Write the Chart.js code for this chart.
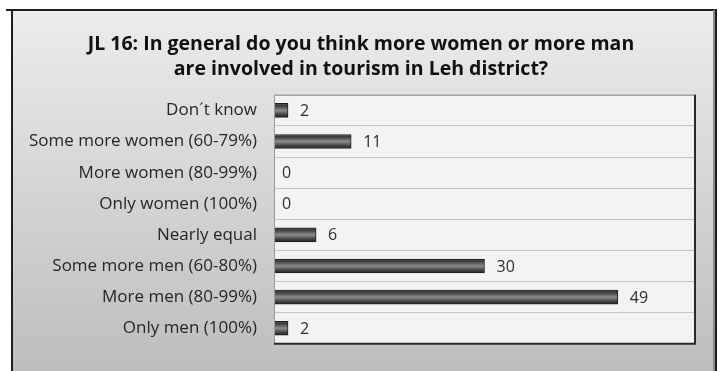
<!DOCTYPE html>
<html>
<head>
<meta charset="utf-8">
<script src="https://cdn.jsdelivr.net/npm/chart.js@4.4.1/dist/chart.umd.min.js"></script>
<style>
  html, body { margin: 0; padding: 0; background: #ffffff; }
  #wrap { width: 719px; height: 371px; position: relative; }
</style>
</head>
<body>
<div id="wrap"><canvas id="tourismChart"></canvas></div>
<script>
// survey answers, top to bottom
const categories = [
    'Don\u00b4t know',
    'Some more women (60-79%)',
    'More women (80-99%)',
    'Only women (100%)',
    'Nearly equal',
    'Some more men (60-80%)',
    'More men (80-99%)',
    'Only men (100%)'
];
const counts = [2, 11, 0, 0, 6, 30, 49, 2];
const titleLines = [
    'JL 16: In general do you think more women or more man',
    'are involved in tourism in Leh district?'
];
const axisMax = 60;

const FONT = '"Open Sans", "DejaVu Sans", sans-serif';

// grey panel behind everything + the black frame
const panelBg = {
    id: 'panelBg',
    beforeDraw(chart) {
        const { ctx, width, height } = chart;
        ctx.save();
        ctx.fillStyle = '#ffffff';
        ctx.fillRect(0, 0, width, height);
        const g = ctx.createLinearGradient(0, 10, 0, height);
        g.addColorStop(0, '#ececec');
        g.addColorStop(1, '#bdbdbd');
        ctx.fillStyle = g;
        ctx.fillRect(12, 10, 704, height - 10);
        ctx.fillStyle = '#1e1e1e';
        ctx.fillRect(6, 9, 711, 2);
        ctx.fillRect(11, 10, 2, height - 10);
        ctx.fillRect(715, 10, 2, height - 10);
        ctx.fillStyle = '#8c8c8c';
        ctx.fillRect(713, 10, 2, height - 10);

        // plot area fill
        const a = chart.chartArea;
        ctx.fillStyle = '#f3f3f3';
        ctx.fillRect(a.left, a.top, a.right - a.left, a.bottom - a.top);
        ctx.restore();
    },
    afterDraw(chart) {
        const { ctx } = chart;
        const a = chart.chartArea;
        ctx.save();
        ctx.lineWidth = 1;
        ctx.strokeStyle = '#9a9a9a';
        ctx.beginPath();
        ctx.moveTo(a.left + 0.5, a.bottom);
        ctx.lineTo(a.left + 0.5, a.top + 0.5);
        ctx.lineTo(a.right, a.top + 0.5);
        ctx.stroke();
        ctx.lineWidth = 2;
        ctx.strokeStyle = '#2a2a2a';
        ctx.beginPath();
        ctx.moveTo(a.right, a.top);
        ctx.lineTo(a.right, a.bottom);
        ctx.lineTo(a.left, a.bottom);
        ctx.stroke();
        ctx.restore();
    }
};

// counts printed just past the end of each bar
const barValues = {
    id: 'barValues',
    afterDatasetsDraw(chart) {
        const { ctx } = chart;
        const meta = chart.getDatasetMeta(0);
        ctx.save();
        ctx.font = '16px ' + FONT;
        ctx.fillStyle = '#2e2e2e';
        ctx.textBaseline = 'middle';
        meta.data.forEach((bar, i) => {
            const v = counts[i];
            const x = v > 0 ? bar.x + 12 : bar.x + 8;
            ctx.fillText(String(v), x, bar.y + 1);
        });
        ctx.restore();
    }
};

// bevelled dark bar: light stripe through the middle
function barFill(context) {
    const chart = context.chart;
    const yScale = chart.scales.y;
    const cy = yScale ? yScale.getPixelForValue(context.dataIndex) : NaN;
    if (!Number.isFinite(cy)) return '#444444';
    const g = chart.ctx.createLinearGradient(0, cy - 7, 0, cy + 7);
    g.addColorStop(0, '#5c5c5c');
    g.addColorStop(0.15, '#3a3a3a');
    g.addColorStop(0.38, '#6f6f6f');
    g.addColorStop(0.5, '#8c8c8c');
    g.addColorStop(0.62, '#6f6f6f');
    g.addColorStop(0.85, '#383838');
    g.addColorStop(1, '#262626');
    return g;
}

new Chart(document.getElementById('tourismChart'), {
    type: 'bar',
    data: {
        labels: categories,
        datasets: [{
            data: counts,
            backgroundColor: barFill,
            borderColor: '#1f1f1f',
            borderWidth: 1,
            borderSkipped: 'start',
            barThickness: 14
        }]
    },
    options: {
        indexAxis: 'y',
        responsive: true,
        maintainAspectRatio: false,
        devicePixelRatio: 1,
        animation: false,
        layout: { padding: { left: 27, right: 24, top: 10, bottom: 12 } },
        scales: {
            x: {
                display: false,
                min: 0,
                max: axisMax
            },
            y: {
                afterFit(scale) { scale.width = 247; },
                border: { display: false },
                grid: {
                    color: '#c4c4c4',
                    lineWidth: 1,
                    drawTicks: false,
                    offset: true
                },
                ticks: {
                    color: '#262626',
                    padding: 17,
                    font: { family: FONT, size: 17 }
                }
            }
        },
        plugins: {
            legend: { display: false },
            tooltip: { enabled: false },
            title: {
                display: true,
                text: titleLines,
                color: '#111111',
                font: { family: FONT, size: 19.5, weight: 'bold', lineHeight: 1.33 },
                padding: { top: 21, bottom: 12 }
            }
        }
    },
    plugins: [panelBg, barValues]
});
</script>
</body>
</html>
